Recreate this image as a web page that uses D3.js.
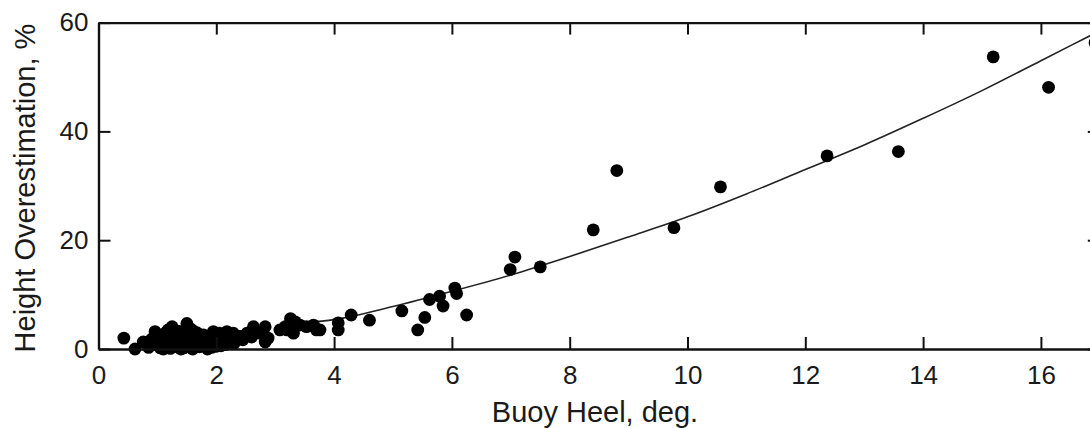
<!DOCTYPE html>
<html>
<head>
<meta charset="utf-8">
<script src="https://cdn.jsdelivr.net/npm/d3@7.9.0/dist/d3.min.js"></script>
<style>
  html, body { margin: 0; padding: 0; background: #fff; overflow: hidden; }
  svg { display: block; }
</style>
</head>
<body>
<svg id="chart" width="1090" height="428"></svg>
<script>
// measured points: buoy heel (deg) and height overestimation (%)
const heelDeg = [
  0.43, 0.62, 0.76, 0.85, 0.90, 0.96, 0.98, 1.02, 1.05, 1.08, 1.12, 1.15, 1.18, 1.20,
  1.22, 1.25, 1.28, 1.30, 1.33, 1.35, 1.38, 1.40, 1.42, 1.45, 1.47, 1.50, 1.52, 1.55,
  1.57, 1.60, 1.62, 1.65, 1.67, 1.70, 1.72, 1.75, 1.78, 1.80, 1.84, 1.88, 1.92, 1.95,
  2.00, 2.05, 2.08, 2.12, 2.18, 2.22, 2.29, 2.30, 2.40, 2.45, 2.52, 2.60, 2.63, 2.74,
  2.83, 2.88, 2.83, 3.08, 3.17, 3.20, 3.26, 3.31, 3.34, 3.42, 3.53, 3.65, 3.70, 3.76,
  4.07, 4.07, 4.29, 4.60, 5.15, 5.42, 5.54, 5.62, 5.79, 5.85, 6.05, 6.08, 6.25,
  6.99, 7.07, 7.50, 8.40, 8.80, 9.77, 10.56, 12.37, 13.58, 15.19, 16.13, 16.92,
  1.00, 1.10, 1.30, 1.45, 1.60, 1.70, 1.85, 2.00, 2.15, 1.35, 1.15, 1.55
];
const overPct = [
  2.0, 0.0, 1.3, 0.3, 1.8, 3.2, 0.8, 2.2, 0.2, 1.4, 2.8, 0.6, 3.5, 1.9,
  0.1, 4.1, 1.0, 2.6, 0.4, 3.3, 1.6, 0.0, 2.2, 3.0, 0.8, 4.7, 1.3, 2.5,
  0.3, 3.4, 1.8, 0.9, 3.0, 2.1, 0.4, 1.4, 2.6, 0.8, 2.0, 1.2, 0.3, 3.2,
  1.6, 2.9, 0.6, 2.2, 3.2, 1.4, 2.9, 1.0, 2.3, 1.7, 2.9, 2.2, 4.1, 2.9,
  4.1, 2.0, 1.3, 3.5, 4.1, 3.5, 5.6, 2.9, 5.0, 4.4, 4.1, 4.4, 3.5, 3.5,
  4.8, 3.5, 6.25, 5.3, 7.0, 3.5, 5.8, 9.1, 9.7, 7.9, 11.2, 10.2, 6.25,
  14.6, 16.9, 15.1, 21.9, 32.8, 22.3, 29.8, 35.5, 36.3, 53.7, 48.1, 56.3,
  1.0, 0.0, 1.5, 0.2, 0.0, 1.0, 0.0, 0.5, 0.8, 2.3, 2.0, 3.8
];

// fitted curve
const fitHeel = [3.5, 4, 5, 6, 7, 8, 9, 10, 11, 12, 13, 14, 15, 16, 17];
const fitOver = [4.8, 5.4, 7.8, 10.6, 13.6, 17.0, 20.6, 24.3, 28.5, 33.0, 37.5, 42.4, 47.5, 53.0, 58.5];

const xTicks = [0, 2, 4, 6, 8, 10, 12, 14, 16];
const yTicks = [0, 20, 40, 60];

const svg = d3.select("#chart");
const plot = { left: 98.5, right: 1099.8, top: 22.6, bottom: 349 };
const font = "'Liberation Sans', Arial, Helvetica, sans-serif";

const x = d3.scaleLinear().domain([0, 17]).range([plot.left, plot.right]);
const y = d3.scaleLinear().domain([0, 60]).range([plot.bottom, plot.top]);

// fit line
const line = d3.line()
  .x(d => x(d[0]))
  .y(d => y(d[1]))
  .curve(d3.curveMonotoneX);

svg.append("path")
  .datum(fitHeel.map((h, i) => [h, fitOver[i]]))
  .attr("fill", "none")
  .attr("stroke", "#222")
  .attr("stroke-width", 1.6)
  .attr("d", line);

// points
svg.append("g")
  .selectAll("circle")
  .data(heelDeg.map((h, i) => [h, overPct[i]]))
  .join("circle")
  .attr("cx", d => x(d[0]))
  .attr("cy", d => y(d[1]))
  .attr("r", 6.4)
  .attr("fill", "#000");

// axes, ticks pointing inward
function styleAxis(g) {
  g.selectAll(".domain").attr("stroke", "#111").attr("stroke-width", 2.4);
  g.selectAll(".tick line").attr("stroke", "#111").attr("stroke-width", 2);
  g.selectAll(".tick text")
    .attr("fill", "#1a1a1a")
    .attr("font-family", font)
    .attr("font-size", "26px");
}

svg.append("g")
  .attr("transform", `translate(0,${plot.bottom})`)
  .call(d3.axisBottom(x).tickValues(xTicks).tickSizeInner(-12).tickSizeOuter(0).tickPadding(17))
  .call(styleAxis);

svg.append("g")
  .attr("transform", `translate(0,${plot.top})`)
  .call(d3.axisTop(x).tickValues(xTicks).tickSizeInner(-12).tickSizeOuter(0).tickFormat(""))
  .call(styleAxis);

svg.append("g")
  .attr("transform", `translate(${plot.left},0)`)
  .call(d3.axisLeft(y).tickValues(yTicks).tickSizeInner(-12).tickSizeOuter(0).tickPadding(10))
  .call(styleAxis);

svg.append("g")
  .attr("transform", `translate(${plot.right},0)`)
  .call(d3.axisRight(y).tickValues(yTicks).tickSizeInner(-12).tickSizeOuter(0).tickFormat(""))
  .call(styleAxis);

// axis titles
svg.append("text")
  .attr("x", 595)
  .attr("y", 422)
  .attr("text-anchor", "middle")
  .attr("font-family", font)
  .attr("font-size", "29px")
  .attr("fill", "#1a1a1a")
  .text("Buoy Heel, deg.");

svg.append("text")
  .attr("transform", "rotate(-90)")
  .attr("x", -188)
  .attr("y", 35)
  .attr("text-anchor", "middle")
  .attr("font-family", font)
  .attr("font-size", "29px")
  .attr("fill", "#1a1a1a")
  .text("Height Overestimation, %");
</script>
</body>
</html>
